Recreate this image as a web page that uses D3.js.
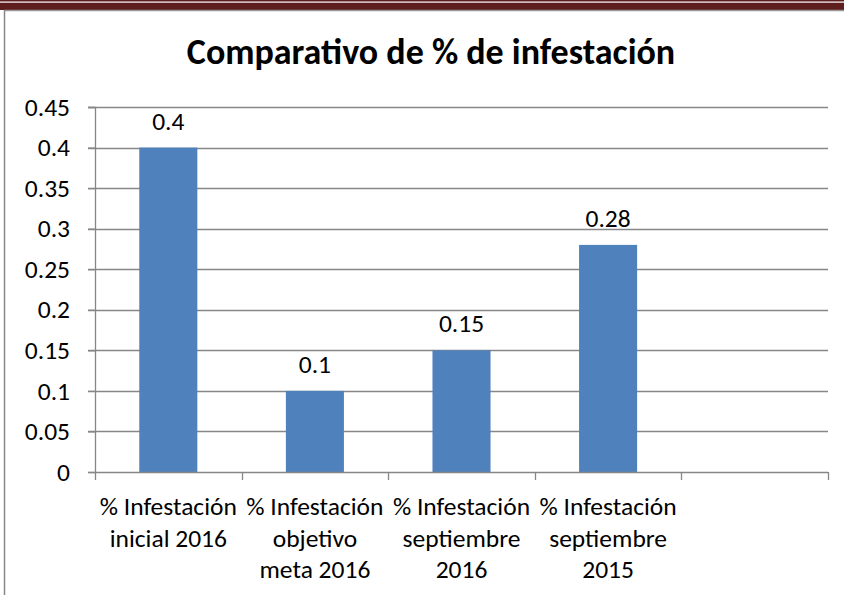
<!DOCTYPE html>
<html>
<head>
<meta charset="utf-8">
<script src="https://cdn.jsdelivr.net/npm/d3@7"></script>
<style>
  body { margin: 0; background: #fff; }
  svg { display: block; font-family: Carlito, Calibri, Lato, sans-serif; }
</style>
</head>
<body>
<svg id="chart" width="844" height="595"></svg>
<script>
// data
const categories = [
    ["% Infestación", "inicial 2016"],
    ["% Infestación", "objetivo", "meta 2016"],
    ["% Infestación", "septiembre", "2016"],
    ["% Infestación", "septiembre", "2015"],
    [""]
];
const values = [0.4, 0.1, 0.15, 0.28, null];
const yTicks = [0, 0.05, 0.1, 0.15, 0.2, 0.25, 0.3, 0.35, 0.4, 0.45];
const title = "Comparativo de % de infestación";

const svg = d3.select("#chart");
const gridColor = "#878787";
const fontSize = 25.5;

// page decoration (document frame above the chart)
svg.append("rect").attr("x", 0).attr("y", 0).attr("width", 844).attr("height", 10).attr("fill", "#5e1e1e");
svg.append("rect").attr("x", 0).attr("y", 1.5).attr("width", 844).attr("height", 1.2).attr("fill", "#fff");
svg.append("line").attr("x1", 4).attr("x2", 844).attr("y1", 10.5).attr("y2", 10.5)
    .attr("stroke", "#999").attr("stroke-width", 1.5);
svg.append("line").attr("x1", 4.5).attr("x2", 4.5).attr("y1", 10).attr("y2", 595)
    .attr("stroke", "#888").attr("stroke-width", 1.5);

const plot = { left: 95, right: 828, top: 107, bottom: 472 };

const x = d3.scaleBand()
    .domain(d3.range(categories.length))
    .range([plot.left, plot.right])
    .padding(0);
const y = d3.scaleLinear()
    .domain([0, 0.45])
    .range([plot.bottom, plot.top]);

// horizontal grid lines
svg.append("g")
    .selectAll("line")
    .data(yTicks.filter(d => d > 0))
    .join("line")
    .attr("x1", plot.left - 7)
    .attr("x2", plot.right)
    .attr("y1", d => Math.round(y(d)) + 0.5)
    .attr("y2", d => Math.round(y(d)) + 0.5)
    .attr("stroke", gridColor)
    .attr("stroke-width", 1.3);

// y axis
const yAxis = svg.append("g")
    .attr("transform", `translate(${plot.left},0)`)
    .call(d3.axisLeft(y).tickValues(yTicks).tickSize(7).tickPadding(18)
        .tickFormat(d => String(+d.toFixed(2))));
yAxis.select(".domain").attr("stroke", gridColor).attr("stroke-width", 1.3);
yAxis.selectAll(".tick line").attr("stroke", gridColor).attr("stroke-width", 1.3);
yAxis.selectAll(".tick text")
    .attr("font-size", fontSize).attr("fill", "#000")
    .attr("font-family", "Carlito, Calibri, Lato, sans-serif");

// bars
const barW = x.bandwidth() * 0.396;
svg.append("g")
    .selectAll("rect")
    .data(values.map((v, i) => ({ v, i })).filter(d => d.v != null))
    .join("rect")
    .attr("x", d => x(d.i) + (x.bandwidth() - barW) / 2)
    .attr("y", d => y(d.v))
    .attr("width", barW)
    .attr("height", d => y(0) - y(d.v))
    .attr("fill", "#4f81bd");

// value labels
svg.append("g")
    .selectAll("text")
    .data(values.map((v, i) => ({ v, i })).filter(d => d.v != null))
    .join("text")
    .attr("x", d => x(d.i) + x.bandwidth() / 2)
    .attr("y", d => y(d.v) - 18)
    .attr("text-anchor", "middle")
    .attr("font-size", fontSize)
    .text(d => d.v);

// x axis line and ticks
svg.append("line")
    .attr("x1", plot.left).attr("x2", plot.right)
    .attr("y1", plot.bottom + 0.5).attr("y2", plot.bottom + 0.5)
    .attr("stroke", gridColor).attr("stroke-width", 1.3);
const xTicks = d3.range(categories.length + 1).map(i => plot.left + i * x.bandwidth());
svg.append("g")
    .selectAll("line")
    .data(xTicks)
    .join("line")
    .attr("x1", d => Math.round(d) + 0.5).attr("x2", d => Math.round(d) + 0.5)
    .attr("y1", plot.bottom).attr("y2", plot.bottom + 8)
    .attr("stroke", gridColor).attr("stroke-width", 1.3);

// category labels
const catG = svg.append("g")
    .selectAll("text")
    .data(categories)
    .join("text")
    .attr("text-anchor", "middle")
    .attr("font-size", fontSize)
    .attr("transform", (d, i) => `translate(${x(i) + x.bandwidth() / 2},515)`);
catG.selectAll("tspan")
    .data(d => d)
    .join("tspan")
    .attr("x", 0)
    .attr("y", (d, j) => j * 31.5)
    .text(d => d);

// title
svg.append("text")
    .attr("x", 431)
    .attr("y", 64)
    .attr("text-anchor", "middle")
    .attr("font-size", 36)
    .attr("font-weight", "bold")
    .text(title);
</script>
</body>
</html>
